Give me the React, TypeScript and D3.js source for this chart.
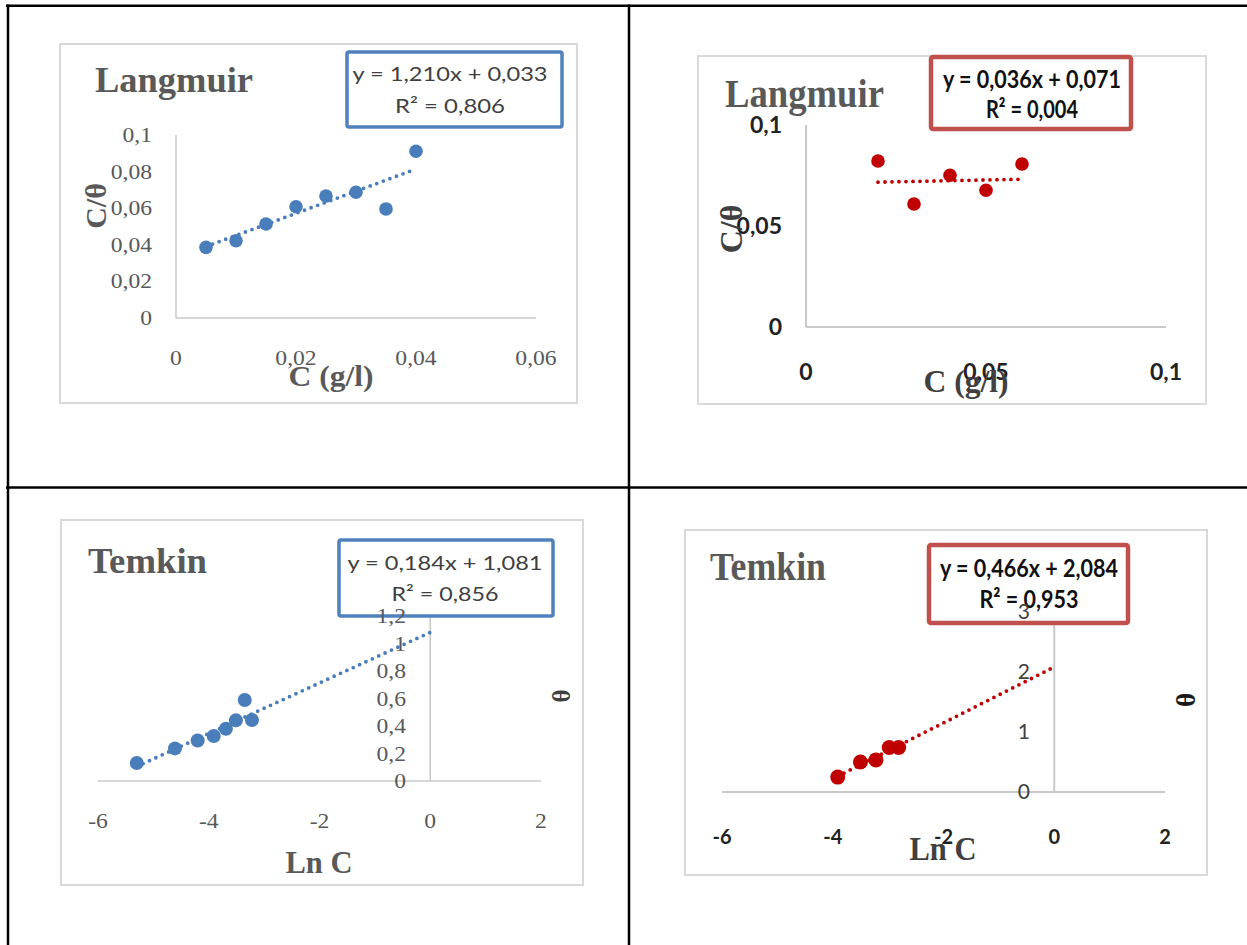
import * as d3 from "d3";

// Langmuir, blue series: C (g/l) vs C/θ
const langmuirC1 = [0.005, 0.01, 0.015, 0.02, 0.025, 0.03, 0.035, 0.04];
const langmuirCT1 = [0.0386, 0.0422, 0.0514, 0.0608, 0.0667, 0.0687, 0.0596, 0.0911];
// Langmuir, red series
const langmuirC2 = [0.02, 0.03, 0.04, 0.05, 0.06];
const langmuirCT2 = [0.0822, 0.0609, 0.0751, 0.0677, 0.0807];
// Temkin, blue series: Ln C vs θ
const temkinLnC1 = [-5.3, -4.61, -4.2, -3.91, -3.69, -3.51, -3.35, -3.22];
const temkinTheta1 = [0.131, 0.237, 0.295, 0.327, 0.38, 0.441, 0.589, 0.444];
// Temkin, red series
const temkinLnC2 = [-3.91, -3.5, -3.22, -2.98, -2.81];
const temkinTheta2 = [0.248, 0.501, 0.535, 0.742, 0.742];

// linear fits: slope, intercept, R²
const fitLangmuir1 = [1.21, 0.033, 0.806];
const fitLangmuir2 = [0.036, 0.071, 0.004];
const fitTemkin1 = [0.184, 1.081, 0.856];
const fitTemkin2 = [0.466, 2.084, 0.953];

// tick values
const xTicksL1 = [0, 0.02, 0.04, 0.06];
const yTicksL1 = [0, 0.02, 0.04, 0.06, 0.08, 0.1];
const xTicksL2 = [0, 0.05, 0.1];
const yTicksL2 = [0, 0.05, 0.1];
const xTicksT = [-6, -4, -2, 0, 2];
const yTicksT1 = [0, 0.2, 0.4, 0.6, 0.8, 1, 1.2];
const yTicksT2 = [0, 1, 2, 3];

const BLUE = "#4a7ebb";
const BLUE_BOX = "#4f81bd";
const RED = "#c00000";
const RED_BOX = "#c0504d";
const SERIF = "'Liberation Serif', 'Times New Roman', serif";
const SANS = "Lato, 'Liberation Sans', sans-serif";

const comma = (v: number) => String(v).replace(".", ",");
const fix3 = (v: number) => d3.format(".3f")(v).replace(".", ",");

type Font = { family: string; size: number; weight: string; color: string; sx?: number };

const Panel = ({ cfg }: { cfg: any }) => {
  const x = d3.scaleLinear().domain(cfg.xDomain).range(cfg.xRange);
  const y = d3.scaleLinear().domain(cfg.yDomain).range(cfg.yRange);
  const [slope, intercept, r2] = cfg.fit;
  const xs: number[] = cfg.xs;
  const ys: number[] = cfg.ys;
  const tStart = d3.min(xs) as number;
  const tEnd = cfg.trendToZero ? 0 : (d3.max(xs) as number);
  const trend = d3
    .line<number>()
    .x((d) => x(d))
    .y((d) => y(slope * d + intercept))([tStart, tEnd]);

  const xf: Font = cfg.xTickFont;
  const yf: Font = cfg.yTickFont;
  const [fx, fy, fw, fh] = cfg.frame;
  const b = cfg.box;
  const e = cfg.eq;

  return (
    <g>
      <rect x={fx} y={fy} width={fw} height={fh} fill="#fff" stroke="#d9d9d9" strokeWidth={2} />
      {/* axes */}
      <line x1={x(0)} x2={x(0)} y1={y(0)} y2={y(cfg.yDomain[1])} stroke="#c8c8c8" strokeWidth={cfg.axisW} />
      <line x1={cfg.xRange[0]} x2={cfg.xRange[1]} y1={y(0)} y2={y(0)} stroke="#c8c8c8" strokeWidth={cfg.axisW} />
      {/* trend line */}
      <path d={trend || ""} fill="none" stroke={cfg.color} strokeWidth={3.8} strokeDasharray="0 7" strokeLinecap="round" />
      {xs.map((v, i) => (
        <circle key={i} cx={x(v)} cy={y(ys[i])} r={cfg.r} fill={cfg.color} />
      ))}
      {/* equation box */}
      <rect x={b.x} y={b.y} width={b.w} height={b.h} rx={2} fill="#fff" stroke={b.color} strokeWidth={b.sw} />
      <text x={e.cx} y={e.y1} textAnchor="middle" fontFamily={SANS} fontSize={e.size} fontWeight={e.weight} fill={e.color} textLength={e.len1} lengthAdjust="spacingAndGlyphs">
        {`y = ${fix3(slope)}x + ${fix3(intercept)}`}
      </text>
      <text x={e.cx} y={e.y2} textAnchor="middle" fontFamily={SANS} fontSize={e.size} fontWeight={e.weight} fill={e.color} textLength={e.len2} lengthAdjust="spacingAndGlyphs">
        {`R² = ${fix3(r2)}`}
      </text>
      {/* tick labels */}
      {cfg.yTicks.map((t: number) => (
        <text key={"y" + t} transform={`translate(${cfg.yTickX},${y(t)}) scale(${yf.sx || 1},1)`} dy="0.35em" textAnchor="end" fontFamily={yf.family} fontSize={yf.size} fontWeight={yf.weight} fill={yf.color}>
          {comma(t)}
        </text>
      ))}
      {cfg.xTicks.map((t: number) => (
        <text key={"x" + t} transform={`translate(${x(t)},${cfg.xTickY}) scale(${xf.sx || 1},1)`} dy="0.35em" textAnchor="middle" fontFamily={xf.family} fontSize={xf.size} fontWeight={xf.weight} fill={xf.color}>
          {comma(t)}
        </text>
      ))}
      {/* titles */}
      <text x={cfg.title.x} y={cfg.title.y} fontFamily={SERIF} fontWeight="bold" fontSize={cfg.title.size} fill="#595959" textLength={cfg.title.len} lengthAdjust="spacingAndGlyphs">
        {cfg.title.text}
      </text>
      <text x={cfg.xLabel.cx} y={cfg.xLabel.y} textAnchor="middle" fontFamily={SERIF} fontWeight="bold" fontSize={cfg.xLabel.size} fill={cfg.xLabel.color} textLength={cfg.xLabel.len} lengthAdjust="spacingAndGlyphs">
        {cfg.xLabel.text}
      </text>
      <text transform={`translate(${cfg.yLabel.x},${cfg.yLabel.cy}) rotate(-90)`} textAnchor="middle" fontFamily={SERIF} fontWeight="bold" fontSize={cfg.yLabel.size} fill={cfg.yLabel.color}>
        {cfg.yLabel.text}
      </text>
    </g>
  );
};

const serifTick: Font = { family: SERIF, size: 20, weight: "normal", color: "#595959", sx: 1.18 };

const panels = [
  {
    xs: langmuirC1, ys: langmuirCT1, fit: fitLangmuir1, color: BLUE, r: 6.8, axisW: 1.5,
    xDomain: [0, 0.06], xRange: [176, 536], yDomain: [0, 0.1], yRange: [318, 135],
    xTicks: xTicksL1, yTicks: yTicksL1, xTickY: 358, yTickX: 152,
    xTickFont: serifTick, yTickFont: serifTick,
    frame: [60, 44, 517, 359],
    box: { x: 347, y: 52, w: 215, h: 75, color: BLUE_BOX, sw: 3.5 },
    eq: { cx: 450, y1: 81, y2: 113, size: 20, weight: "normal", color: "#404040", len1: 195, len2: 110 },
    title: { text: "Langmuir", x: 95, y: 92, size: 36, len: 158 },
    xLabel: { text: "C (g/l)", cx: 331, y: 386, size: 30, len: 85, color: "#595959" },
    yLabel: { text: "C/θ", x: 106, cy: 206, size: 30, color: "#595959" },
  },
  {
    xs: langmuirC2, ys: langmuirCT2, fit: fitLangmuir2, color: RED, r: 6.8, axisW: 2,
    xDomain: [0, 0.1], xRange: [806, 1166], yDomain: [0, 0.1], yRange: [327, 125],
    xTicks: xTicksL2, yTicks: yTicksL2, xTickY: 372, yTickX: 782,
    xTickFont: { family: SANS, size: 23, weight: "bold", color: "#222" },
    yTickFont: { family: SANS, size: 23, weight: "bold", color: "#222" },
    frame: [698, 56, 508, 348],
    box: { x: 931, y: 57, w: 200, h: 72, color: RED_BOX, sw: 4.5 },
    eq: { cx: 1032, y1: 88, y2: 118, size: 24, weight: "bold", color: "#111", len1: 178, len2: 92 },
    title: { text: "Langmuir", x: 725, y: 107, size: 40, len: 159 },
    xLabel: { text: "C (g/l)", cx: 966, y: 392, size: 32, len: 85, color: "#404040" },
    yLabel: { text: "C/θ", x: 742, cy: 229, size: 32, color: "#404040" },
  },
  {
    xs: temkinLnC1, ys: temkinTheta1, fit: fitTemkin1, color: BLUE, r: 7, axisW: 1.5, trendToZero: true,
    xDomain: [-6, 2], xRange: [98, 541], yDomain: [0, 1.2], yRange: [781, 616],
    xTicks: xTicksT, yTicks: yTicksT1, xTickY: 821, yTickX: 406,
    xTickFont: serifTick, yTickFont: serifTick,
    frame: [61, 520, 522, 365],
    box: { x: 339, y: 540, w: 214, h: 76, color: BLUE_BOX, sw: 3.5 },
    eq: { cx: 445, y1: 570, y2: 601, size: 20, weight: "normal", color: "#404040", len1: 195, len2: 107 },
    title: { text: "Temkin", x: 88, y: 573, size: 35, len: 119 },
    xLabel: { text: "Ln C", cx: 319, y: 873, size: 32, len: 67, color: "#595959" },
    yLabel: { text: "θ", x: 570, cy: 696, size: 25, color: "#404040" },
  },
  {
    xs: temkinLnC2, ys: temkinTheta2, fit: fitTemkin2, color: RED, r: 7.5, axisW: 2, trendToZero: true,
    xDomain: [-6, 2], xRange: [722, 1165], yDomain: [0, 3], yRange: [792, 612],
    xTicks: xTicksT, yTicks: yTicksT2, xTickY: 837, yTickX: 1030,
    xTickFont: { family: SANS, size: 20, weight: "bold", color: "#222" },
    yTickFont: { family: SANS, size: 21, weight: "normal", color: "#404040" },
    frame: [685, 530, 522, 345],
    box: { x: 929, y: 545, w: 199, h: 78, color: RED_BOX, sw: 4.5 },
    eq: { cx: 1029, y1: 577, y2: 608, size: 24, weight: "bold", color: "#111", len1: 178, len2: 99 },
    title: { text: "Temkin", x: 710, y: 580, size: 40, len: 116 },
    xLabel: { text: "Ln C", cx: 943, y: 860, size: 34, len: 67, color: "#404040" },
    yLabel: { text: "θ", x: 1195, cy: 700, size: 27, color: "#1a1a1a" },
  },
];

export default function App() {
  return (
    <svg width={1247} height={945} style={{ position: "absolute", left: 0, top: 0, display: "block", background: "#fff" }}>
      <rect width={1247} height={945} fill="#fff" />
      {panels.map((p, i) => (
        <Panel key={i} cfg={p} />
      ))}
      {/* table grid */}
      <g stroke="#000" strokeWidth={2.5}>
        <line x1={6} x2={1247} y1={5.7} y2={5.7} />
        <line x1={6} x2={1247} y1={487.5} y2={487.5} />
        <line x1={8} x2={8} y1={4.5} y2={945} />
        <line x1={629} x2={629} y1={4.5} y2={945} />
      </g>
    </svg>
  );
}
